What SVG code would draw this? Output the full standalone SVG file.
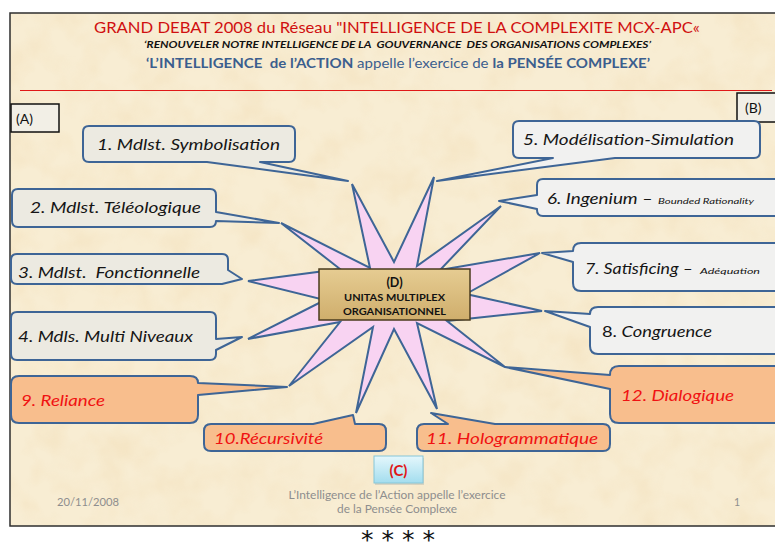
<svg xmlns="http://www.w3.org/2000/svg" width="775" height="543" viewBox="0 0 775 543">
<style>
.callout{stroke:#3E6596;stroke-width:2;stroke-linejoin:round}
.grey{fill:#ECEAE1}
.light{fill:#F1F1F0}
.orange{fill:#F8BE8D}
.lbl{font-family:Lato,"Open Sans","Liberation Sans",sans-serif;font-style:italic;font-size:15px;fill:#151515}
.red{fill:#F01212}
.small{font-family:Lato,"Open Sans","Liberation Sans",sans-serif;font-style:italic;font-size:8px;fill:#151515}
.foot{font-family:Lato,"Open Sans","Liberation Sans",sans-serif;font-size:10.5px;fill:#8E8E8E}
.tag{font-family:Lato,"Open Sans","Liberation Sans",sans-serif;font-size:14px;fill:#111}
.dtxt{font-family:Lato,"Open Sans","Liberation Sans",sans-serif;font-weight:bold;fill:#111;text-anchor:middle}
</style>
<defs>
<filter id="tex" x="0" y="0" width="100%" height="100%">
<feTurbulence type="fractalNoise" baseFrequency="0.03" numOctaves="3" seed="7" result="n"/>
<feColorMatrix in="n" type="matrix" values="0 0 0 0 0.86  0 0 0 0 0.66  0 0 0 0 0.38  1.2 0 0 0 -0.48"/>
</filter>
<linearGradient id="dgrad" x1="0" y1="0" x2="0" y2="1">
<stop offset="0" stop-color="#E6CC92"/>
<stop offset="1" stop-color="#CFAE6C"/>
</linearGradient>
<linearGradient id="cgrad" x1="0" y1="0" x2="0" y2="1">
<stop offset="0" stop-color="#E4F7FC"/>
<stop offset="1" stop-color="#A3DDEE"/>
</linearGradient>
</defs>

<rect x="0" y="0" width="775" height="543" fill="#FFFFFF"/>
<rect id="slide" x="10" y="13" width="780" height="513" fill="#F8EDD3" stroke="#2E2E2E" stroke-width="1.5"/>
<rect x="11" y="14" width="778" height="511" fill="#000" filter="url(#tex)" opacity="0.5"/>

<g id="header">
<text x="94" y="33" textLength="606" lengthAdjust="spacingAndGlyphs" font-family="Lato,'Open Sans','Liberation Sans',sans-serif" font-size="15.5" fill="#D01010">GRAND DEBAT 2008 du Réseau "INTELLIGENCE DE LA COMPLEXITE MCX-APC«</text>
<text x="144" y="48" textLength="507" lengthAdjust="spacingAndGlyphs" font-family="Lato,'Open Sans','Liberation Sans',sans-serif" font-size="9.5" font-weight="bold" font-style="italic" fill="#111" xml:space="preserve">‘RENOUVELER NOTRE INTELLIGENCE DE LA  GOUVERNANCE  DES ORGANISATIONS COMPLEXES’</text>
<text x="146" y="68" textLength="504" lengthAdjust="spacingAndGlyphs" font-family="Lato,'Open Sans','Liberation Sans',sans-serif" font-size="14" fill="#3B5E8E" xml:space="preserve"><tspan font-weight="bold">‘L’INTELLIGENCE  de l’ACTION</tspan> appelle l’exercice de <tspan font-weight="bold">la PENSÉE COMPLEXE’</tspan></text>
<line x1="20" y1="90.5" x2="772" y2="90.5" stroke="#E01818" stroke-width="1.2"/>
</g>

<g id="tag-A">
<rect x="11" y="104" width="48" height="28" fill="#F2EFE6" stroke="#111" stroke-width="1.5"/>
<text class="tag" x="16" y="124">(A)</text>
</g>
<g id="tag-B">
<rect x="737" y="93" width="45" height="29" fill="#F2EFE6" stroke="#111" stroke-width="1.5"/>
<text class="tag" x="745" y="113">(B)</text>
</g>

<g id="connectors">
<polygon points="352,184 394,262 434,177 417,266 501,206 440,270 540,253 466,294 542,311 447,321 505,367 417,323 437,409 394,329 356,413 373,327 289,386 340,322 248,339 325,300 248,281 340,269 281,223 370,268" fill="#F8D3F2" stroke="#3E6596" stroke-width="2" stroke-linejoin="miter"/>
</g>

<g id="node-D">
<rect x="319" y="269" width="151" height="51" fill="url(#dgrad)" stroke="#4A3B1E" stroke-width="1.5"/>
<text class="dtxt" x="394.5" y="287" font-size="12.5">(D)</text>
<text class="dtxt" x="394.5" y="301" font-size="10" textLength="101" lengthAdjust="spacingAndGlyphs">UNITAS MULTIPLEX</text>
<text class="dtxt" x="394.5" y="315" font-size="10" textLength="103" lengthAdjust="spacingAndGlyphs">ORGANISATIONNEL</text>
</g>

<g id="node-1">
<path class="callout grey" d="M89,126 H289 Q295,126 295,132 V156 Q295,162 289,162 H260 L348,181 L207,162 H89 Q83,162 83,156 V132 Q83,126 89,126 Z"/>
<text class="lbl" x="97" y="150" textLength="183" lengthAdjust="spacingAndGlyphs">1. Mdlst. Symbolisation</text>
</g>
<g id="node-2">
<path class="callout grey" d="M18,189 H210 Q216,189 216,195 V212 L279,223 L216,221 Q216,227 210,227 H18 Q12,227 12,221 V195 Q12,189 18,189 Z"/>
<text class="lbl" x="30" y="213" textLength="171" lengthAdjust="spacingAndGlyphs">2. Mdlst. Téléologique</text>
</g>
<g id="node-3">
<path class="callout grey" d="M17,254 H222 Q228,254 228,260 V270 L242,279 L222,284 H17 Q11,284 11,278 V260 Q11,254 17,254 Z"/>
<text class="lbl" x="18" y="278" textLength="182" lengthAdjust="spacingAndGlyphs" xml:space="preserve">3. Mdlst.  Fonctionnelle</text>
</g>
<g id="node-4">
<path class="callout grey" d="M17,312 H210 Q216,312 216,318 V339 L242,337 L216,350 V354 Q216,360 210,360 H17 Q11,360 11,354 V318 Q11,312 17,312 Z"/>
<text class="lbl" x="18" y="342" textLength="175" lengthAdjust="spacingAndGlyphs">4. Mdls. Multi Niveaux</text>
</g>
<g id="node-5">
<path class="callout light" d="M519,121 H754 Q760,121 760,127 V152 Q760,158 754,158 H615 L437,181 L553,158 H519 Q513,158 513,152 V127 Q513,121 519,121 Z"/>
<text class="lbl" x="523" y="145" font-size="16" textLength="211" lengthAdjust="spacingAndGlyphs">5. Modélisation-Simulation</text>
</g>
<g id="node-6">
<path class="callout light" d="M543,179 H784 V216 H543 Q537,216 537,210 V209 L499,201 L537,195 V185 Q537,179 543,179 Z"/>
<text class="lbl" x="547" y="204" textLength="106" lengthAdjust="spacingAndGlyphs">6. Ingenium –</text>
<text class="small" x="658" y="204" textLength="96" lengthAdjust="spacingAndGlyphs">Bounded Rationality</text>
</g>
<g id="node-7">
<path class="callout light" d="M581,243 H784 V291 H581 Q573,291 573,283 V262 L542,253 L573,251 Q573,243 581,243 Z"/>
<text class="lbl" x="585" y="274" textLength="108" lengthAdjust="spacingAndGlyphs">7. Satisficing –</text>
<text class="small" x="700" y="274" font-size="9" textLength="60" lengthAdjust="spacingAndGlyphs">Adéquation</text>
</g>
<g id="node-8">
<path class="callout light" d="M598,307 H784 V354 H598 Q590,354 590,346 V327 L545,311 L590,314 Q590,307 598,307 Z"/>
<text class="lbl" x="602" y="337" textLength="110" lengthAdjust="spacingAndGlyphs"><tspan font-style="normal">8. </tspan>Congruence</text>
</g>
<g id="node-9">
<path class="callout orange" d="M19,376 H190 Q198,376 198,383 L287,387 L198,395 V415 Q198,423 190,423 H19 Q11,423 11,415 V384 Q11,376 19,376 Z"/>
<text class="lbl red" x="21" y="406" textLength="84" lengthAdjust="spacingAndGlyphs">9. Reliance</text>
</g>
<g id="node-10">
<path class="callout orange" d="M211,424 H313 L353,415 L355,424 H379 Q386,424 386,431 V444 Q386,451 379,451 H211 Q204,451 204,444 V431 Q204,424 211,424 Z"/>
<text class="lbl red" x="214" y="444" textLength="109" lengthAdjust="spacingAndGlyphs">10.Récursivité</text>
</g>
<g id="node-11">
<path class="callout orange" d="M424,424 H448 L431,413 L495,424 H603 Q610,424 610,431 V444 Q610,451 603,451 H424 Q417,451 417,444 V431 Q417,424 424,424 Z"/>
<text class="lbl red" x="426" y="444" textLength="172" lengthAdjust="spacingAndGlyphs">11. Hologrammatique</text>
</g>
<g id="node-12">
<path class="callout orange" d="M619,366 H784 V423 H619 Q610,423 610,414 V389 L505,367 L610,375 Q610,366 619,366 Z"/>
<text class="lbl red" x="621" y="401" textLength="113" lengthAdjust="spacingAndGlyphs">12. Dialogique</text>
</g>

<g id="tag-C">
<rect x="375" y="458" width="49" height="27" fill="#7A8C90" opacity="0.25"/>
<rect x="374" y="456" width="49" height="27" fill="url(#cgrad)" stroke="#86C6D8" stroke-width="1"/>
<text x="398.5" y="476" text-anchor="middle" font-family="Lato,'Open Sans','Liberation Sans',sans-serif" font-size="15" font-weight="bold" fill="#E01616">(C)</text>
</g>

<g id="footer">
<text class="foot" x="57" y="506" textLength="62" lengthAdjust="spacingAndGlyphs">20/11/2008</text>
<text class="foot" x="397" y="499" text-anchor="middle" textLength="217" lengthAdjust="spacingAndGlyphs">L’Intelligence de l’Action appelle l’exercice</text>
<text class="foot" x="397" y="513" text-anchor="middle" textLength="120" lengthAdjust="spacingAndGlyphs">de la Pensée Complexe</text>
<text class="foot" x="734" y="506">1</text>
</g>

<text x="398" y="548" text-anchor="middle" font-family="'DejaVu Sans',sans-serif" font-size="25" fill="#111">* * * *</text>
</svg>
